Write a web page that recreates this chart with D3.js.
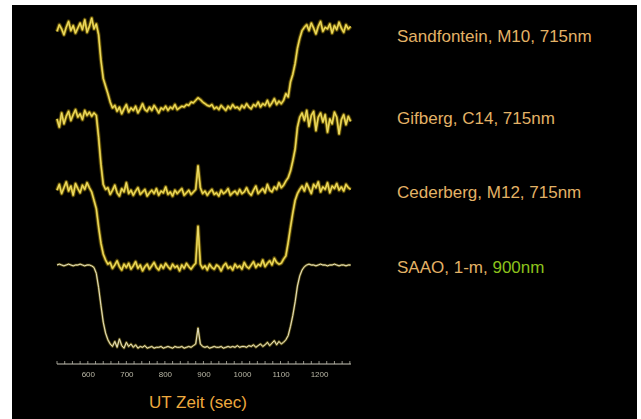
<!DOCTYPE html>
<html>
<head>
<meta charset="utf-8">
<script src="https://cdn.jsdelivr.net/npm/d3@7/dist/d3.min.js"></script>
<style>
  html, body { margin: 0; padding: 0; background: #ffffff; }
  svg { display: block; }
</style>
</head>
<body>
<svg id="chart" width="641" height="419"></svg>
<script>
// Light curves: relative flux (%) sampled every 6 s from UT 520 s
const sampleStart = 520;
const sampleStep = 6;

const stations = ["Sandfontein", "Gifberg", "Cederberg", "SAAO"];
const labelParts = [
  ["Sandfontein, M10, 715nm", ""],
  ["Gifberg, C14, 715nm", ""],
  ["Cederberg, M12, 715nm", ""],
  ["SAAO, 1-m, ", "900nm"]
];
// vertical offsets used to stack the curves (flux units)
const offsets = [2.82, 1.80, 0.93, 0.00];

const sandfontein = [
  96, 104, 99, 92, 101, 108, 97, 103, 94, 100, 106, 98, 110, 95, 102, 112, 99, 105,
  92, 62, 40, 31, 22, 12, 5,
  8, 1, 6, -2, 4, 9, 0, 5, 2, 7, -1, 4, 10, 3, 1, 6, 2, 8, 4, -1, 5, 3, 7, 2, 6, 4, 9, 3, 5, 7,
  6, 9, 8, 12, 11, 14, 17, 15, 12, 10, 8, 7, 9,
  4, 6, 3, 8, 5, 2, 7, 4, 9, 5, 6, 3, 8, 5, 10, 6, 4, 9, 7, 12, 6, 10, 8, 14, 7, 11, 16, 9, 13, 10,
  14, 22, 18, 36, 45, 58, 76, 88, 97, 101,
  104, 97, 106, 100, 93, 102, 108, 96, 101, 99, 105, 94, 103, 98, 107, 100, 95, 104, 99, 102
];

const gifberg = [
  94, 84, 101, 88, 97, 103, 92, 99, 105, 96, 100, 93, 104, 98, 102, 97, 101,
  98, 72, 40, 16, 10,
  12, 4, 9, 15, 6, 2, 11, 7, 18, 5, 9, 3, 8, 12, 4, 7, 10, 2, 6, 9, 5, 11, 3, 8, 6, 13, 4, 7, 2, 9, 5, 8, 11, 3, 6, 9, 4, 7,
  10, 38, 12,
  5, 8, 3, 7, 10, 4, 6, 2, 9, 5, 7, 11, 3, 6, 8, 4, 10, 5, 7, 12, 6, 3, 9, 14, 5, 8, 11, 6, 16, 9, 7, 13, 10, 18, 12,
  15, 20, 24, 32, 44, 58, 84, 96, 101,
  92, 104, 85, 98, 103, 80, 96, 101, 90, 99, 78, 94, 88, 102, 96, 76, 93, 99, 87, 97, 91
];

const cederberg = [
  96, 103, 92, 99, 106, 95, 101, 90, 104, 98, 93, 102, 97, 105, 99,
  94, 84, 74, 52, 33, 20, 13, 8,
  10, 3, 7, 12, 5, 1, 8, 4, 9, 2, 6, 11, 3, 7, 0, 5, 8, 2, 6, 10, 4, 1, 7, 3, 9, 5, 2, 8, 4, 6, 0, 7, 3, 9, 5, 2, 6,
  9, 53, 8,
  3, 6, 1, 8, 4, 2, 7, 5, 0, 6, 9, 3, 5, 1, 8, 4, 6, 2, 10, 5, 3, 7, 11, 4, 8, 6, 13, 5, 9, 12, 7, 15, 10, 8,
  9, 14, 18, 34, 52, 69, 84, 92, 97,
  101, 95, 104, 98, 92, 103, 99, 106, 94, 100, 97, 105, 93, 101, 98, 104, 96, 100, 95, 103, 99, 97
];

const saao = [
  100, 101, 100, 99, 100, 101, 100, 99, 100, 100, 101, 100, 99, 100, 100,
  99, 97, 90, 73, 52, 32, 19, 11, 6, 3,
  9, 2, 12, 4, 1, 8, 3, 6, 2, 5, 1, 3, 2, 4, 1, 2, 3, 1, 2, 2, 3, 1, 2, 3, 2, 1, 3, 2, 2, 3, 1, 2, 3, 2, 4,
  6, 25, 6,
  3, 2, 3, 1, 2, 3, 2, 2, 3, 1, 2, 3, 2, 3, 2, 4, 2, 3, 3, 2, 4, 3, 5, 2, 4, 6, 3, 5, 8, 4, 7, 10, 5, 9, 6, 8,
  11, 16, 27, 40, 56, 75, 87, 94, 98,
  100, 101, 100, 100, 99, 100, 101, 100, 100, 99, 100, 100, 101, 100, 99, 100, 100, 99, 100, 100
];

const seriesValues = [sandfontein, gifberg, cederberg, saao];
const tickValues = [600, 700, 800, 900, 1000, 1100, 1200];
const axisTitle = "UT Zeit (sec)";

const svg = d3.select("#chart");

// dark panel
svg.append("rect")
  .attr("x", 12).attr("y", 5)
  .attr("width", 625).attr("height", 414)
  .attr("fill", "#000000");

const x = d3.scaleLinear().domain([520, 1283]).range([57, 351]);
const y = d3.scaleLinear().domain([0, 4]).range([349, 13]);

const defs = svg.append("defs");
defs.append("filter").attr("id", "soft")
  .attr("x", "-5%").attr("y", "-5%").attr("width", "110%").attr("height", "110%")
  .append("feGaussianBlur").attr("stdDeviation", 0.5);
defs.append("filter").attr("id", "softer")
  .append("feGaussianBlur").attr("stdDeviation", 0.6);

const line = d3.line()
  .x((d, i) => x(sampleStart + i * sampleStep))
  .y(d => d);

const traces = svg.append("g").attr("filter", "url(#soft)");

seriesValues.forEach((vals, k) => {
  const pts = vals.map(v => y(offsets[k] + v / 100));
  const isRef = k === 3;
  // wide faint halo
  traces.append("path")
    .attr("d", line(pts))
    .attr("fill", "none")
    .attr("stroke", isRef ? "#9c8a30" : "#b89818")
    .attr("stroke-width", isRef ? 3 : 4.2)
    .attr("stroke-opacity", isRef ? 0.3 : 0.35)
    .attr("stroke-linejoin", "round");
  // glow
  traces.append("path")
    .attr("d", line(pts))
    .attr("fill", "none")
    .attr("stroke", isRef ? "#c8b440" : "#d9bd22")
    .attr("stroke-width", isRef ? 1.8 : 2.2)
    .attr("stroke-opacity", isRef ? 0.55 : 0.85)
    .attr("stroke-linejoin", "round");
  // core
  traces.append("path")
    .attr("d", line(pts))
    .attr("fill", "none")
    .attr("stroke", isRef ? "#e4dfc4" : "#f2e37a")
    .attr("stroke-width", isRef ? 1.0 : 0.9)
    .attr("stroke-linejoin", "round");
});

// time axis
const axisY = 364;
const axisG = svg.append("g").attr("transform", `translate(0,${axisY})`);
axisG.append("line")
  .attr("x1", 57).attr("x2", 351)
  .attr("stroke", "#c9c6b8").attr("stroke-width", 1);

const minorTicks = d3.range(520, 1284, 20);
axisG.selectAll("line.minor").data(minorTicks).join("line")
  .attr("class", "minor")
  .attr("x1", d => x(d)).attr("x2", d => x(d))
  .attr("y1", 0).attr("y2", -3)
  .attr("stroke", "#b8b6aa").attr("stroke-width", 0.8);

const xAxis = d3.axisBottom(x).tickValues(tickValues).tickSize(0).tickPadding(7)
  .tickFormat(d3.format("d"));
const axisLabels = svg.append("g")
  .attr("transform", `translate(0,${axisY})`)
  .call(xAxis);
axisLabels.select(".domain").remove();
axisLabels.selectAll("text")
  .attr("fill", "#b9b7a6")
  .attr("font-family", "'Liberation Sans Narrow', 'Liberation Sans', Arial, sans-serif")
  .attr("font-size", 8)
  .attr("filter", "url(#softer)");

svg.append("text")
  .attr("x", 198).attr("y", 408)
  .attr("text-anchor", "middle")
  .attr("font-family", "'Liberation Sans', Arial, sans-serif")
  .attr("font-size", 17)
  .attr("fill", "#eea93e")
  .text(axisTitle);

// station labels
const labelY = [42, 124, 198, 273];
labelParts.forEach((parts, k) => {
  const t = svg.append("text")
    .attr("x", 397).attr("y", labelY[k])
    .attr("font-family", "'Liberation Sans', Arial, sans-serif")
    .attr("font-size", 17)
    .attr("fill", "#e3b266");
  t.append("tspan").text(parts[0]);
  if (parts[1]) t.append("tspan").attr("fill", "#8cc21c").text(parts[1]);
});
</script>
</body>
</html>
